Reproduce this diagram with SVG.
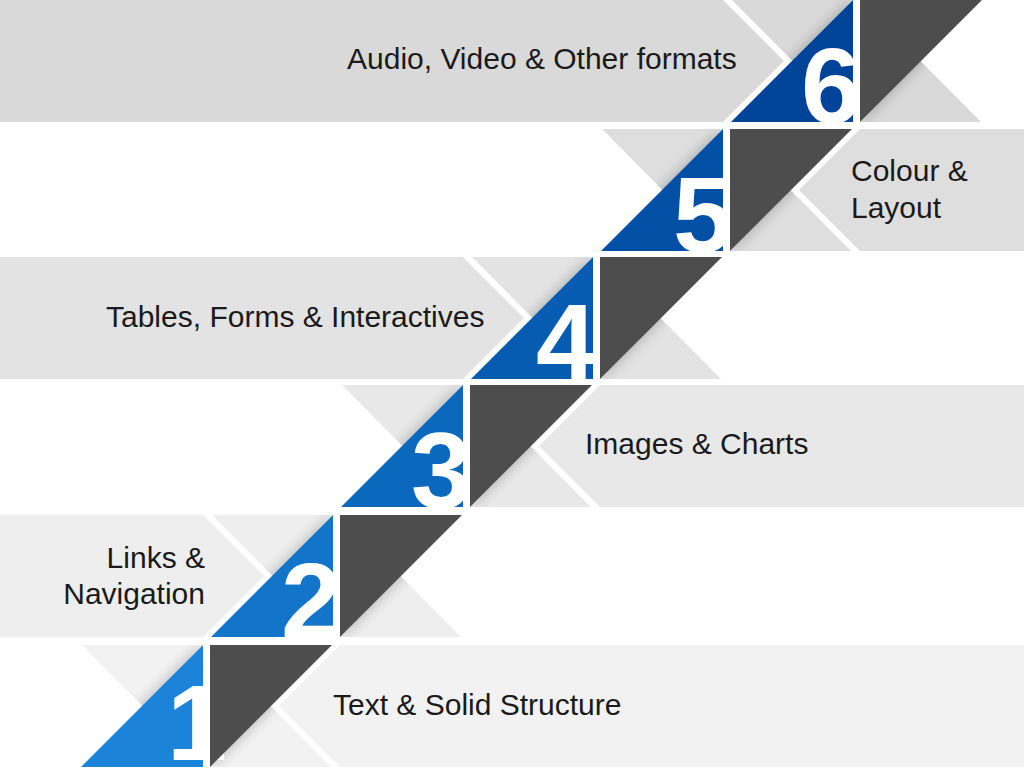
<svg xmlns="http://www.w3.org/2000/svg" width="1024" height="768" viewBox="0 0 1024 768">
  <style>
    .label { font-family: "Liberation Sans", Arial, sans-serif; font-size: 30px; fill: #1a1a1a; }
    .num { font-family: "Liberation Sans", Arial, sans-serif; font-size: 108px; font-weight: bold; fill: #ffffff; }
    .dark { fill: #4d4d4d; }
    .shade { fill: #000000; opacity: 0.28; }
  </style>
  <defs>
    <filter id="blur" x="-40%" y="-40%" width="180%" height="180%">
      <feGaussianBlur stdDeviation="7"/>
    </filter>
    <!-- wedge outlines in step-local coordinates (origin = centre of the fold) -->
    <clipPath id="clipLeftWedge" clipPathUnits="userSpaceOnUse">
      <path d="M-124.5,-61 L-3.5,-61 L-64,0 Z"/>
    </clipPath>
    <clipPath id="clipRightWedge" clipPathUnits="userSpaceOnUse">
      <path d="M3.5,61 L124.5,61 L64,0 Z"/>
    </clipPath>
    <path id="blueTri" d="M-125.5,61 L-3.5,61 L-3.5,-61 Z"/>
    <path id="darkTri" d="M3.5,-61 L125.5,-61 L3.5,61 Z"/>
  </defs>
  <rect width="1024" height="768" fill="#ffffff"/>

  <!-- Step 1 -->
  <g id="step-1">
    <g transform="translate(206.5,706)">
      <path d="M133.5,-61 L817.5,-61 L817.5,61 L133.5,61 L72.5,0 Z" fill="#f2f2f2"/>
      <path d="M-124.5,-61 L-3.5,-61 L-64,0 Z" fill="#f2f2f2"/>
      <path d="M3.5,61 L124.5,61 L64,0 Z" fill="#f2f2f2"/>
      <g clip-path="url(#clipLeftWedge)"><use href="#blueTri" class="shade" filter="url(#blur)"/></g>
      <g clip-path="url(#clipRightWedge)"><use href="#darkTri" class="shade" filter="url(#blur)"/></g>
      <use href="#blueTri" fill="#1b83d8"/>
    </g>
    <text class="num" x="167" y="760">1</text>
    <use href="#darkTri" class="dark" transform="translate(206.5,706)"/>
    <text class="label" x="333" y="715">Text &amp; Solid Structure</text>
  </g>

  <!-- Step 2 -->
  <g id="step-2">
    <g transform="translate(336.5,576)">
      <path d="M-336.5,-61 L-133.5,-61 L-72.5,0 L-133.5,61 L-336.5,61 Z" fill="#eeeeee"/>
      <path d="M-124.5,-61 L-3.5,-61 L-64,0 Z" fill="#eeeeee"/>
      <path d="M3.5,61 L124.5,61 L64,0 Z" fill="#eeeeee"/>
      <g clip-path="url(#clipLeftWedge)"><use href="#blueTri" class="shade" filter="url(#blur)"/></g>
      <g clip-path="url(#clipRightWedge)"><use href="#darkTri" class="shade" filter="url(#blur)"/></g>
      <use href="#blueTri" fill="#1275c9"/>
    </g>
    <text class="num" x="281" y="638">2</text>
    <use href="#darkTri" class="dark" transform="translate(336.5,576)"/>
    <text class="label" x="205" y="568" text-anchor="end">Links &amp;</text>
    <text class="label" x="205" y="604" text-anchor="end">Navigation</text>
  </g>

  <!-- Step 3 -->
  <g id="step-3">
    <g transform="translate(466.5,446)">
      <path d="M133.5,-61 L557.5,-61 L557.5,61 L133.5,61 L72.5,0 Z" fill="#e8e8e8"/>
      <path d="M-124.5,-61 L-3.5,-61 L-64,0 Z" fill="#e8e8e8"/>
      <path d="M3.5,61 L124.5,61 L64,0 Z" fill="#e8e8e8"/>
      <g clip-path="url(#clipLeftWedge)"><use href="#blueTri" class="shade" filter="url(#blur)"/></g>
      <g clip-path="url(#clipRightWedge)"><use href="#darkTri" class="shade" filter="url(#blur)"/></g>
      <use href="#blueTri" fill="#0a69bd"/>
    </g>
    <text class="num" x="411" y="508">3</text>
    <use href="#darkTri" class="dark" transform="translate(466.5,446)"/>
    <text class="label" x="585" y="454">Images &amp; Charts</text>
  </g>

  <!-- Step 4 -->
  <g id="step-4">
    <g transform="translate(596.5,318)">
      <path d="M-596.5,-61 L-133.5,-61 L-72.5,0 L-133.5,61 L-596.5,61 Z" fill="#e3e3e3"/>
      <path d="M-124.5,-61 L-3.5,-61 L-64,0 Z" fill="#e3e3e3"/>
      <path d="M3.5,61 L124.5,61 L64,0 Z" fill="#e3e3e3"/>
      <g clip-path="url(#clipLeftWedge)"><use href="#blueTri" class="shade" filter="url(#blur)"/></g>
      <g clip-path="url(#clipRightWedge)"><use href="#darkTri" class="shade" filter="url(#blur)"/></g>
      <use href="#blueTri" fill="#065cb0"/>
    </g>
    <text class="num" x="536" y="379">4</text>
    <use href="#darkTri" class="dark" transform="translate(596.5,318)"/>
    <text class="label" x="106" y="327">Tables, Forms &amp; Interactives</text>
  </g>

  <!-- Step 5 -->
  <g id="step-5">
    <g transform="translate(726.5,190)">
      <path d="M133.5,-61 L297.5,-61 L297.5,61 L133.5,61 L72.5,0 Z" fill="#dedede"/>
      <path d="M-124.5,-61 L-3.5,-61 L-64,0 Z" fill="#dedede"/>
      <path d="M3.5,61 L124.5,61 L64,0 Z" fill="#dedede"/>
      <g clip-path="url(#clipLeftWedge)"><use href="#blueTri" class="shade" filter="url(#blur)"/></g>
      <g clip-path="url(#clipRightWedge)"><use href="#darkTri" class="shade" filter="url(#blur)"/></g>
      <use href="#blueTri" fill="#0250a5"/>
    </g>
    <text class="num" x="673" y="252">5</text>
    <use href="#darkTri" class="dark" transform="translate(726.5,190)"/>
    <text class="label" x="851" y="181">Colour &amp;</text>
    <text class="label" x="851" y="218">Layout</text>
  </g>

  <!-- Step 6 -->
  <g id="step-6">
    <g transform="translate(856.5,61)">
      <path d="M-856.5,-61 L-133.5,-61 L-72.5,0 L-133.5,61 L-856.5,61 Z" fill="#d9d9d9"/>
      <path d="M-124.5,-61 L-3.5,-61 L-64,0 Z" fill="#d9d9d9"/>
      <path d="M3.5,61 L124.5,61 L64,0 Z" fill="#d9d9d9"/>
      <g clip-path="url(#clipLeftWedge)"><use href="#blueTri" class="shade" filter="url(#blur)"/></g>
      <g clip-path="url(#clipRightWedge)"><use href="#darkTri" class="shade" filter="url(#blur)"/></g>
      <use href="#blueTri" fill="#00449a"/>
    </g>
    <text class="num" x="801" y="123">6</text>
    <use href="#darkTri" class="dark" transform="translate(856.5,61)"/>
    <text class="label" x="347" y="69">Audio, Video &amp; Other formats</text>
  </g>
</svg>
